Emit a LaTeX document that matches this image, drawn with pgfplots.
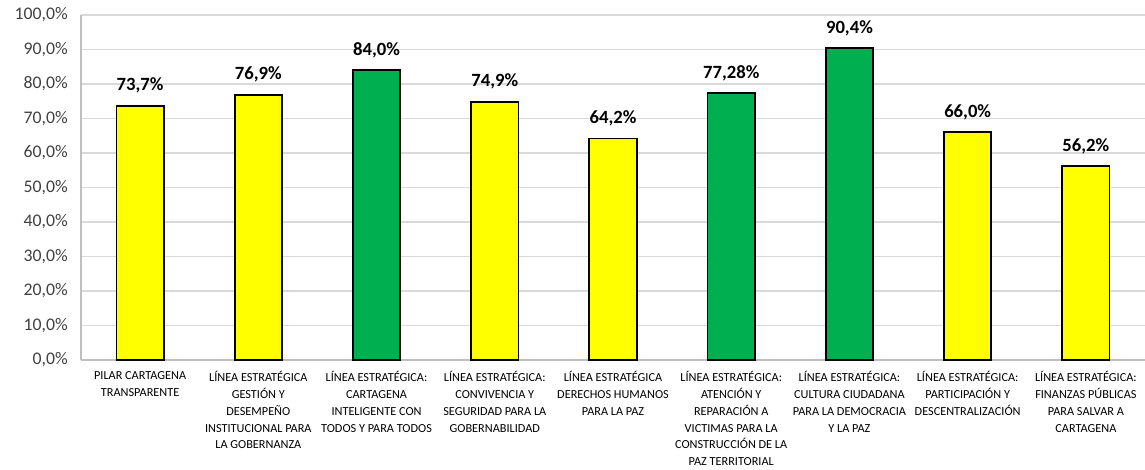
\documentclass[border=0pt]{standalone}
\usepackage{fontspec}
\setmainfont{Carlito}
\usepackage{pgfplots}
\pgfplotsset{compat=1.18}

\definecolor{baryellow}{RGB}{255,255,0}
\definecolor{bargreen}{RGB}{0,176,80}
\definecolor{gridgray}{RGB}{217,217,217}
\definecolor{axisgray}{RGB}{191,191,191}
\definecolor{txtgray}{RGB}{64,64,64}

\begin{document}
\begin{tikzpicture}
% page size: 1145 x 469 px at 0.75pt per px
\useasboundingbox (-60.75pt,-81.75pt) rectangle (798pt,270pt);
\begin{axis}[
    at={(0,0)}, anchor=south west,
    scale only axis,
    width=798pt, height=258.75pt,
    xmin=-0.5, xmax=8.5,
    ymin=0, ymax=100,
    ybar, bar width=35.5pt, bar shift=0pt,
    axis x line*=bottom, axis y line*=left,
    axis line style={draw=axisgray, line width=1.1pt},
    ymajorgrids=true,
    grid style={draw=gridgray, line width=1.1pt},
    major tick length=0pt,
    ytick={0,10,...,100},
    /pgf/number format/assume math mode=true,
    yticklabel={\pgfmathprintnumber[fixed,fixed zerofill,precision=1,use comma]{\tick}\%},
    yticklabel style={font=\fontsize{13.3}{15}\selectfont, color=txtgray,
        anchor=east, inner sep=0pt, xshift=-9.75pt},
    xtick={0,...,8},
    xticklabels={
        {PILAR CARTAGENA\\TRANSPARENTE},
        {LÍNEA ESTRATÉGICA\\GESTIÓN Y\\DESEMPEÑO\\INSTITUCIONAL PARA\\LA GOBERNANZA},
        {LÍNEA ESTRATÉGICA:\\CARTAGENA\\INTELIGENTE CON\\TODOS Y PARA TODOS},
        {LÍNEA ESTRATÉGICA:\\CONVIVENCIA Y\\SEGURIDAD PARA LA\\GOBERNABILIDAD},
        {LÍNEA ESTRATÉGICA\\DERECHOS HUMANOS\\PARA LA PAZ},
        {LÍNEA ESTRATÉGICA:\\ATENCIÓN Y\\REPARACIÓN A\\VICTIMAS PARA LA\\CONSTRUCCIÓN DE LA\\PAZ TERRITORIAL},
        {LÍNEA ESTRATÉGICA:\\CULTURA CIUDADANA\\PARA LA DEMOCRACIA\\Y LA PAZ},
        {LÍNEA ESTRATÉGICA:\\PARTICIPACIÓN Y\\DESCENTRALIZACIÓN},
        {LÍNEA ESTRATÉGICA:\\FINANZAS PÚBLICAS\\PARA SALVAR A\\CARTAGENA}},
    xticklabel style={font=\fontsize{9.2}{12.6}\selectfont, align=center,
        anchor=north, inner sep=0pt, yshift=-8.35pt,
        execute at begin node={\strut}},
    point meta=explicit symbolic,
    nodes near coords={\pgfplotspointmeta},
    nodes near coords style={font=\bfseries\fontsize{14}{16}\selectfont,
        anchor=base, inner sep=0pt, yshift=11.25pt},
]

% metas met sin alcanzar el 80%
\addplot[fill=baryellow, draw=black, line width=1.4pt] coordinates {
    (0,73.7) [73,7\%]
    (1,76.9) [76,9\%]
    (3,74.9) [74,9\%]
    (4,64.2) [64,2\%]
    (7,66.0) [66,0\%]
    (8,56.2) [56,2\%]
};

% lineas en verde
\addplot[fill=bargreen, draw=black, line width=1.4pt] coordinates {
    (2,84.0) [84,0\%]
    (5,77.28) [77,28\%]
    (6,90.4) [90,4\%]
};

\end{axis}
\end{tikzpicture}
\end{document}
